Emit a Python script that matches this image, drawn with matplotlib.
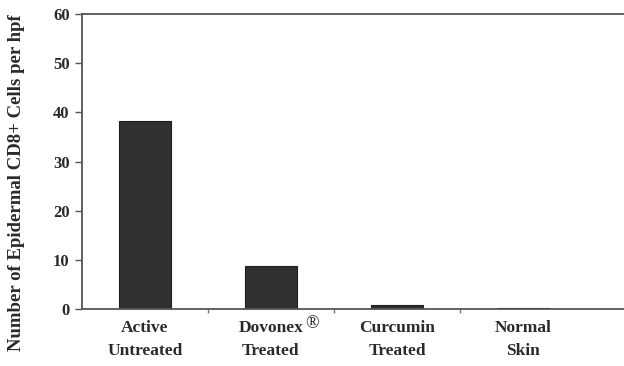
import matplotlib
matplotlib.use("Agg")
import matplotlib.pyplot as plt

# ---- data ----
categories = ["Active\nUntreated", "Dovonex\nTreated", "Curcumin\nTreated", "Normal\nSkin"]
cd8_counts = [38.2, 8.7, 0.8, 0.15]
y_ticks = [0, 10, 20, 30, 40, 50, 60]

plt.rcParams["font.family"] = ["Liberation Serif", "DejaVu Serif"]

ink = "#2a2a2a"
fig = plt.figure(figsize=(6.24, 3.66), dpi=100)
ax = fig.add_axes([82 / 624, 1 - 309 / 366, 1 - 82 / 624, (309 - 14) / 366])

x = list(range(1, len(categories) + 1))
ax.bar(x, cd8_counts, width=0.41, color="#303030", edgecolor="#1e1e1e", linewidth=0.8)

ax.set_xlim(0.5, 0.5 + (624 - 82) / 126)
ax.set_ylim(0, 60)
ax.set_yticks(y_ticks)
ax.set_yticklabels([str(t) for t in y_ticks], fontweight="bold", fontsize=12, color=ink)
ax.tick_params(axis="y", direction="out", length=5, width=1, color="#555555", pad=4)

# category ticks sit between the groups, labels sit at the bar centres
ax.set_xticks([1.5, 2.5, 3.5])
ax.set_xticklabels([])
ax.tick_params(axis="x", direction="out", length=3, width=1, color="#777777")
for xi, lab in zip(x, categories):
    ax.text(xi, -2.3, lab, ha="center", va="top", fontsize=12.5, fontweight="bold",
            color=ink, linespacing=1.55)

# registered mark after "Dovonex", raised like a superscript
ax.annotate("\u00ae", xy=(2, -2.3), xytext=(25, 3.5), textcoords="offset points",
            ha="left", va="top", fontsize=13, color=ink, annotation_clip=False)

ax.set_ylabel("Number of Epidermal CD8+ Cells per hpf", fontsize=13.5, fontweight="bold",
              color=ink)
ax.yaxis.set_label_coords(-0.105, 0.43)

for side in ["left", "bottom", "top"]:
    ax.spines[side].set_color("#555555")
    ax.spines[side].set_linewidth(1.3)
ax.spines["right"].set_visible(False)

fig.savefig("out.png", dpi=100)
